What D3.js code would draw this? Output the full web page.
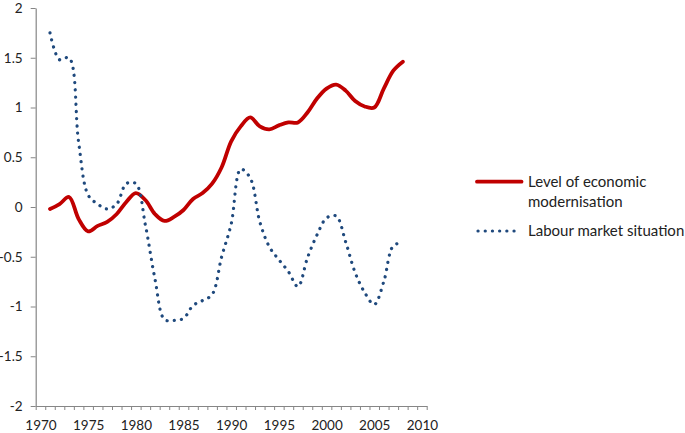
<!DOCTYPE html>
<html><head><meta charset="utf-8">
<script src="https://cdn.jsdelivr.net/npm/d3@7"></script>
<style>
html,body{margin:0;padding:0;background:#fff;}
svg{display:block;}
text{font-family:Lato,"Open Sans",sans-serif;fill:#222;}
</style></head>
<body>
<svg id="chart" width="685" height="433"></svg>
<script>
const years = d3.range(1971, 2009);
const modernisation = [-0.02,0.03,0.10,-0.12,-0.245,-0.19,-0.15,-0.07,0.05,0.14,0.07,-0.07,-0.14,-0.10,-0.03,0.08,0.14,0.235,0.40,0.66,0.81,0.90,0.81,0.78,0.82,0.85,0.85,0.95,1.09,1.19,1.23,1.17,1.065,1.01,1.00,1.19,1.37,1.46];
const labour = [1.75,1.48,1.50,0.65,0.12,0.03,-0.02,0.03,0.235,0.235,-0.18,-0.72,-1.13,-1.14,-1.12,-0.99,-0.94,-0.88,-0.50,-0.17,0.38,0.29,-0.15,-0.40,-0.53,-0.65,-0.80,-0.51,-0.28,-0.11,-0.09,-0.35,-0.66,-0.86,-0.98,-0.75,-0.39,-0.36];
const yTicks = [-2,-1.5,-1,-0.5,0,0.5,1,1.5,2];
const xLabels = [1970,1975,1980,1985,1990,1995,2000,2005,2010];
const seriesNames = ["Level of economic modernisation","Labour market situation"];

const svg = d3.select("#chart");
const x = d3.scaleLinear().domain([1969.5, 2010.5]).range([35.7, 426.7]);
const y = d3.scaleLinear().domain([-2, 2]).range([406, 8]);
const axisColor = "#868686";

// Y axis
const gy = svg.append("g").attr("transform","translate(35.7,0)")
  .call(d3.axisLeft(y).tickValues(yTicks).tickSize(5).tickSizeOuter(0).tickFormat(d=>String(d)));
gy.selectAll("text").attr("font-size","13.5px").attr("x",-13).attr("fill","#222");

// X axis ticks (between categories)
const gx = svg.append("g").attr("transform","translate(0,406)")
  .call(d3.axisBottom(x).tickValues(d3.range(1969.5, 2011, 1)).tickSize(4).tickSizeOuter(0).tickFormat(""));
const gxl = svg.append("g").attr("transform","translate(0,406)")
  .call(d3.axisBottom(x).tickValues(xLabels).tickSize(0).tickFormat(d3.format("d")));
gxl.select(".domain").remove();
gxl.selectAll("text").attr("font-size","13.5px").attr("dy","0").attr("y",24).attr("fill","#222");

[gy,gx].forEach(g=>{
  g.selectAll(".domain").attr("stroke",axisColor).attr("stroke-width",1.2);
  g.selectAll(".tick line").attr("stroke",axisColor).attr("stroke-width",1);
});

const line = d3.line().x((d,i)=>x(years[i])).y(d=>y(d)).curve(d3.curveCatmullRom.alpha(0.5));

svg.append("path").datum(modernisation).attr("d",line)
  .attr("fill","none").attr("stroke","#C00000").attr("stroke-width",3.8)
  .attr("stroke-linejoin","round").attr("stroke-linecap","round");

svg.append("path").datum(labour).attr("d",line)
  .attr("fill","none").attr("stroke","#1F497D").attr("stroke-width",3.2)
  .attr("stroke-linecap","round").attr("stroke-dasharray","0.1,7.1");

// Legend
const lg = svg.append("g");
lg.append("line").attr("x1",477).attr("x2",521.5).attr("y1",181.7).attr("y2",181.7)
  .attr("stroke","#C00000").attr("stroke-width",3.8).attr("stroke-linecap","round");
lg.append("text").attr("x",528).attr("y",187).attr("font-size","15px").text("Level of economic");
lg.append("text").attr("x",528).attr("y",207).attr("font-size","15px").text("modernisation");
lg.append("line").attr("x1",478).attr("x2",521).attr("y1",231).attr("y2",231)
  .attr("stroke","#1F497D").attr("stroke-width",3.2).attr("stroke-linecap","round").attr("stroke-dasharray","0.1,7.1");
lg.append("text").attr("x",528).attr("y",236.3).attr("font-size","15px").text(seriesNames[1]);
</script>
</body></html>
